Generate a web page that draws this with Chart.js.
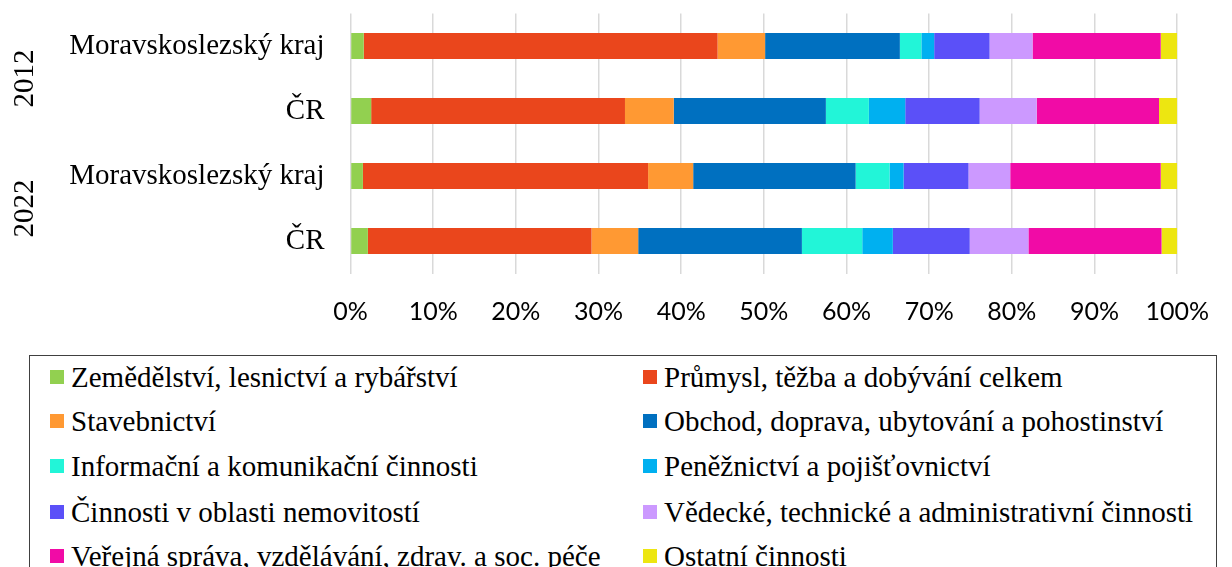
<!DOCTYPE html>
<html><head><meta charset="utf-8">
<script src="https://cdn.jsdelivr.net/npm/chart.js@4.4.1/dist/chart.umd.min.js"></script>
<style>
html,body{margin:0;padding:0;background:#fff;width:1232px;height:567px;overflow:hidden;}
#wrap{position:absolute;left:0;top:0;width:1232px;height:340px;}
#legend{position:absolute;left:29px;top:355px;width:1188px;height:240px;border:1.5px solid #404040;box-sizing:border-box;font-family:"Liberation Serif","Times New Roman",serif;font-size:29px;color:#000;background:#fff;}
.item{position:absolute;display:flex;align-items:center;white-space:nowrap;height:40px;}
.sw{width:14px;height:14px;margin-right:7px;flex:none;}
</style></head>
<body>
<div id="wrap"><canvas id="c" width="1232" height="340"></canvas></div>
<div id="legend"></div>
<script>
const categories = ["Moravskoslezský kraj", "ČR", "Moravskoslezský kraj", "ČR"];
const yearGroups = ["2012", "2022"];
const xTicks = [0, 10, 20, 30, 40, 50, 60, 70, 80, 90, 100];

const seriesNames = [
  "Zemědělství, lesnictví a rybářství",
  "Průmysl, těžba a dobývání celkem",
  "Stavebnictví",
  "Obchod, doprava, ubytování a pohostinství",
  "Informační a komunikační činnosti",
  "Peněžnictví a pojišťovnictví",
  "Činnosti v oblasti nemovitostí",
  "Vědecké, technické a administrativní činnosti",
  "Veřejná správa, vzdělávání, zdrav. a soc. péče",
  "Ostatní činnosti"
];
const seriesColors = ["#92D050", "#EA461C", "#FF9933", "#0070C0", "#22F5D8", "#00B0F0", "#5B50F8", "#CC99FF", "#F10BA6", "#EDE611"];

const zemedelstvi = [1.6, 2.5, 1.5, 2.1];
const prumysl     = [42.8, 30.7, 34.5, 27.05];
const stavebnictvi= [5.75, 5.9, 5.45, 5.65];
const obchod      = [16.3, 18.4, 19.65, 19.8];
const informacni  = [2.6, 5.2, 4.1, 7.3];
const penez       = [1.55, 4.4, 1.7, 3.7];
const nemovitosti = [6.7, 9.0, 7.85, 9.3];
const vedecke     = [5.2, 6.9, 5.05, 7.1];
const verejna     = [15.5, 14.8, 18.2, 16.1];
const ostatni     = [2.0, 2.2, 2.0, 1.9];

const seriesData = [zemedelstvi, prumysl, stavebnictvi, obchod, informacni, penez, nemovitosti, vedecke, verejna, ostatni];

const yearPlugin = {
  id: 'yearLabels',
  afterDraw(chart) {
    const ctx = chart.ctx;
    const ys = chart.scales.y;
    ctx.save();
    ctx.fillStyle = '#000';
    ctx.font = '29px "Liberation Serif", "Times New Roman", serif';
    ctx.textAlign = 'center';
    ctx.textBaseline = 'middle';
    yearGroups.forEach((yr, i) => {
      const yc = (ys.getPixelForValue(i * 2) + ys.getPixelForValue(i * 2 + 1)) / 2;
      ctx.save();
      ctx.translate(25, yc);
      ctx.rotate(-Math.PI / 2);
      ctx.fillText(yr, 0, 0);
      ctx.restore();
    });
    ctx.restore();
  }
};

new Chart(document.getElementById('c'), {
  type: 'bar',
  data: {
    labels: categories,
    datasets: seriesNames.map((n, i) => ({
      label: n,
      data: seriesData[i],
      backgroundColor: seriesColors[i],
      borderWidth: 0,
      barPercentage: 0.4,
      categoryPercentage: 1.0
    }))
  },
  options: {
    indexAxis: 'y',
    responsive: false,
    animation: false,
    devicePixelRatio: 1,
    layout: { padding: { top: 13.5, right: 35, left: 0, bottom: 0 } },
    plugins: { legend: { display: false }, tooltip: { enabled: false } },
    scales: {
      x: {
        stacked: true, min: 0, max: 100,
        afterBuildTicks: s => { s.ticks = xTicks.map(v => ({ value: v })); },
        ticks: {
          callback: v => v + '%',
          font: { family: 'Lato', size: 25 },
          color: '#000',
          padding: 23,
          maxRotation: 0,
          autoSkip: false
        },
        grid: { color: '#d9d9d9', lineWidth: 1.5, drawTicks: false },
        border: { display: false },
        afterFit: s => { s.height = 66.5; }
      },
      y: {
        stacked: true,
        ticks: {
          font: { family: '"Liberation Serif", "Times New Roman", serif', size: 29 },
          color: '#000',
          padding: 18
        },
        grid: { display: false },
        border: { display: false },
        afterFit: s => { s.width = 350.5; s.paddingTop = 0; s.paddingBottom = 0; }
      }
    }
  },
  plugins: [yearPlugin]
});

const leg = document.getElementById('legend');
const rowTops = [21, 65, 110, 156, 200];
const colLefts = [20, 613];
seriesNames.forEach((n, i) => {
  const d = document.createElement('div');
  d.className = 'item';
  d.style.left = colLefts[i % 2] + 'px';
  d.style.top = (rowTops[Math.floor(i / 2)] - 20) + 'px';
  const sw = document.createElement('span');
  sw.className = 'sw';
  sw.style.background = seriesColors[i];
  const t = document.createElement('span');
  t.textContent = n;
  d.appendChild(sw); d.appendChild(t);
  leg.appendChild(d);
});
</script>
</body></html>
